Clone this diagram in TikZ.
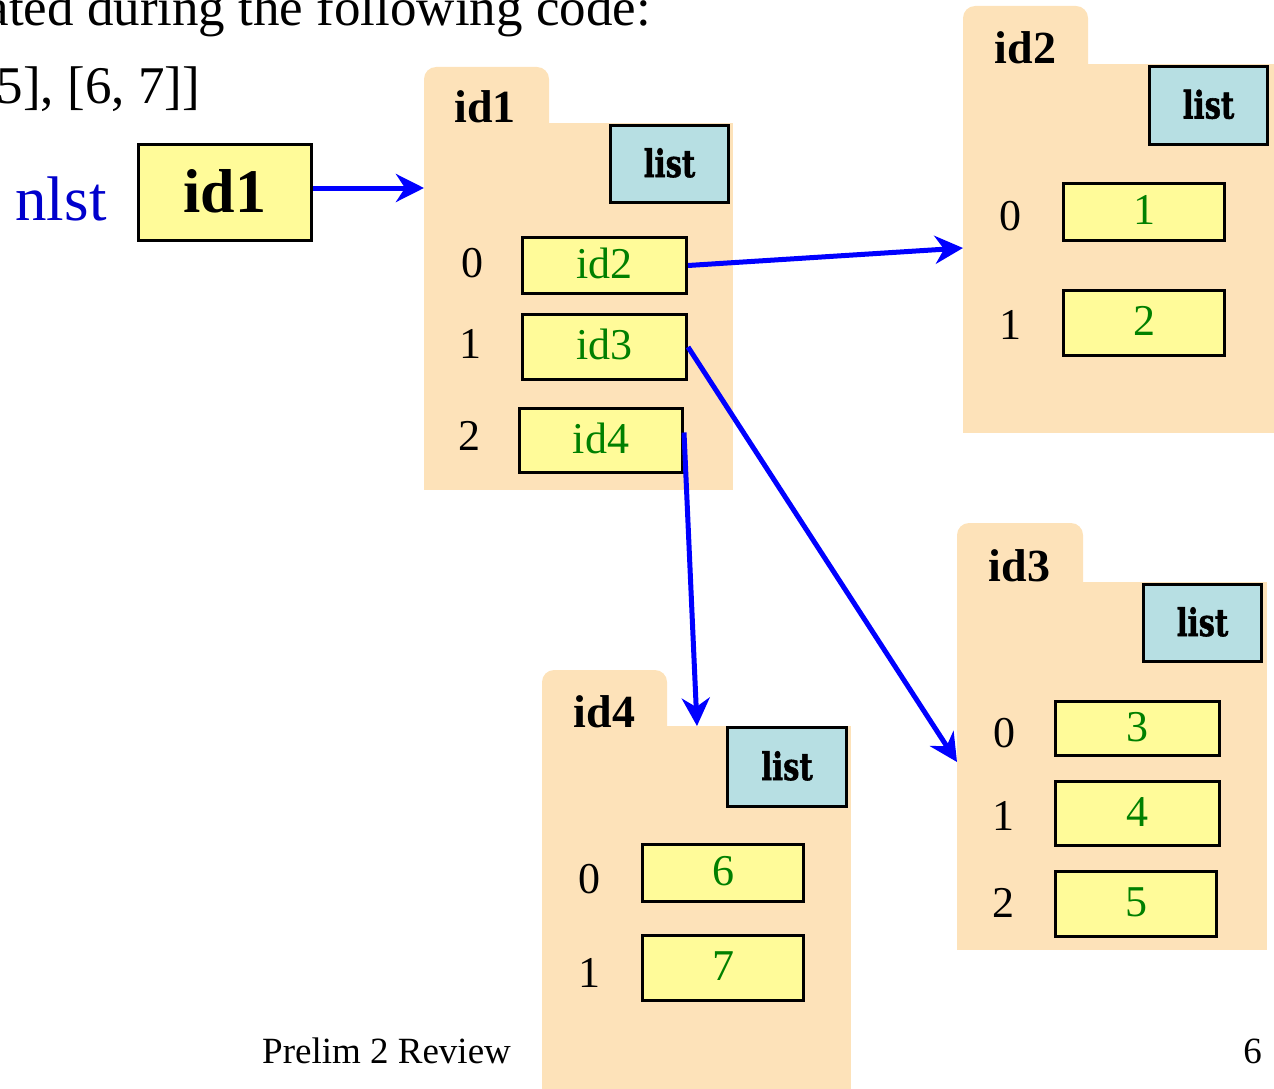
\documentclass[tikz,border=0pt]{standalone}
\usepackage{fontspec}
\usepackage{graphicx}
\setmainfont{Liberation Serif}
\newfontfamily\listfont[BoldFeatures={FakeBold=1.5}]{DejaVu Serif}
\usetikzlibrary{arrows.meta}
\definecolor{folderc}{RGB}{253,226,185}
\definecolor{valc}{RGB}{255,251,153}
\definecolor{listc}{RGB}{183,223,227}
\definecolor{grn}{RGB}{0,128,0}
\definecolor{arrowblue}{RGB}{0,0,255}
\definecolor{nameblue}{RGB}{0,0,204}
\newcommand{\fsz}[1]{\fontsize{#1}{#1}\selectfont}
\newcommand{\listword}{\scalebox{0.76}[1]{list}}
\begin{document}
\begin{tikzpicture}[x=1pt,y=-1pt,
 folderbody/.style={fill=folderc, inner sep=0pt, outer sep=0pt, anchor=north west},
 foldertab/.style={fill=folderc, rounded corners=12pt},
 tablabel/.style={font=\fsz{46}\bfseries, anchor=base, inner sep=0pt},
 listbox/.style={draw=black, line width=3pt, fill=listc, inner sep=0pt, anchor=north west,
   font=\fsz{38}\listfont\bfseries, text height=26pt, text depth=0pt, minimum width=118pt, minimum height=77pt},
 valbox/.style={draw=black, line width=3pt, fill=valc, inner sep=0pt, anchor=north west,
   font=\fsz{44}, text=grn, text height=25pt, text depth=0pt},
 idx/.style={font=\fsz{44}, anchor=base, inner sep=0pt},
 ptr/.style={draw=arrowblue, line width=5pt, -{Stealth[length=28pt,width=28pt,inset=9pt]}},
 plain/.style={font=\fsz{53}, inner sep=0pt},
]
\useasboundingbox (0,0) rectangle (1274,1089);

% top text
\node[plain, anchor=base east] (l1) at (651,26) {ated during the following code:};
\node[plain, anchor=base east] (l2) at (200,104) {5], [6, 7]]};

% variable
\node[font=\fsz{63}, text=nameblue, anchor=base, inner sep=0pt] (nlst) at (61,220) {nlst};
\node[draw=black, line width=3pt, fill=valc, inner sep=0pt, anchor=north west,
  minimum width=173pt, minimum height=96pt, font=\fsz{62}\bfseries,
  text height=39pt, text depth=0pt] (idbox) at (137,143) {id1};

% folder id1
\fill[foldertab] (424,150) rectangle (549,67);
\node[folderbody, minimum width=309pt, minimum height=367pt] (f1) at (424,123) {};
\node[tablabel] (f1lab) at (485,123) {id1};
\node[listbox] (f1type) at (609,124) {\listword};
\node[idx] (f1i0) at (472,277) {0};
\node[idx] (f1i1) at (470,358) {1};
\node[idx] (f1i2) at (469,450) {2};
\node[valbox, minimum width=164pt, minimum height=56pt] (f1v0) at (521,236) {id2};
\node[valbox, minimum width=164pt, minimum height=65pt] (f1v1) at (521,313) {id3};
\node[valbox, minimum width=163pt, minimum height=64pt] (f1v2) at (518,407) {id4};

% folder id2
\fill[foldertab] (963,90) rectangle (1088,6);
\node[folderbody, minimum width=311pt, minimum height=369pt] (f2) at (963,64) {};
\node[tablabel] (f2lab) at (1025.5,64) {id2};
\node[listbox, minimum height=78pt] (f2type) at (1148,65) {\listword};
\node[idx] (f2i0) at (1010,230) {0};
\node[idx] (f2i1) at (1010,339) {1};
\node[valbox, minimum width=161pt, minimum height=57pt] (f2v0) at (1062,182) {1};
\node[valbox, minimum width=161pt, minimum height=65pt] (f2v1) at (1062,289) {2};

% folder id3
\fill[foldertab] (957,610) rectangle (1083,523);
\node[folderbody, minimum width=310pt, minimum height=368pt] (f3) at (957,582) {};
\node[tablabel] (f3lab) at (1019.5,581) {id3};
\node[listbox] (f3type) at (1142,583) {\listword};
\node[idx] (f3i0) at (1004,747) {0};
\node[idx] (f3i1) at (1003,830) {1};
\node[idx] (f3i2) at (1003,917) {2};
\node[valbox, minimum width=164pt, minimum height=54pt] (f3v0) at (1054,700) {3};
\node[valbox, minimum width=164pt, minimum height=64pt] (f3v1) at (1054,780) {4};
\node[valbox, minimum width=161pt, minimum height=65pt] (f3v2) at (1054,870) {5};

% folder id4
\fill[foldertab] (542,750) rectangle (667,670);
\node[folderbody, minimum width=309pt, minimum height=363pt] (f4) at (542,726) {};
\node[tablabel] (f4lab) at (604.5,727) {id4};
\node[listbox, minimum width=119pt, minimum height=79pt] (f4type) at (726,726) {\listword};
\node[idx] (f4i0) at (589,893) {0};
\node[idx] (f4i1) at (589,987) {1};
\node[valbox, minimum width=161pt, minimum height=57pt] (f4v0) at (641,843) {6};
\node[valbox, minimum width=161pt, minimum height=65pt] (f4v1) at (641,934) {7};

% arrow targets
\coordinate (t1) at (424,188);
\coordinate (t2) at (963,248);
\coordinate (t3) at (957,762);
\coordinate (t4) at (697,726);

\draw[ptr] (idbox.east |- t1) -- (t1);
\draw[ptr] (f1v0.east) -- (t2);
\draw[ptr] (f1v1.east) -- (t3);
\draw[ptr] ([yshift=8pt]f1v2.east) -- (t4);

% footer
\node[font=\fsz{37}, anchor=base west, inner sep=0pt] (foot) at (262,1063) {Prelim 2 Review};
\node[font=\fsz{37}, anchor=base east, inner sep=0pt] (pg) at (1262,1063) {6};
\end{tikzpicture}
\end{document}
